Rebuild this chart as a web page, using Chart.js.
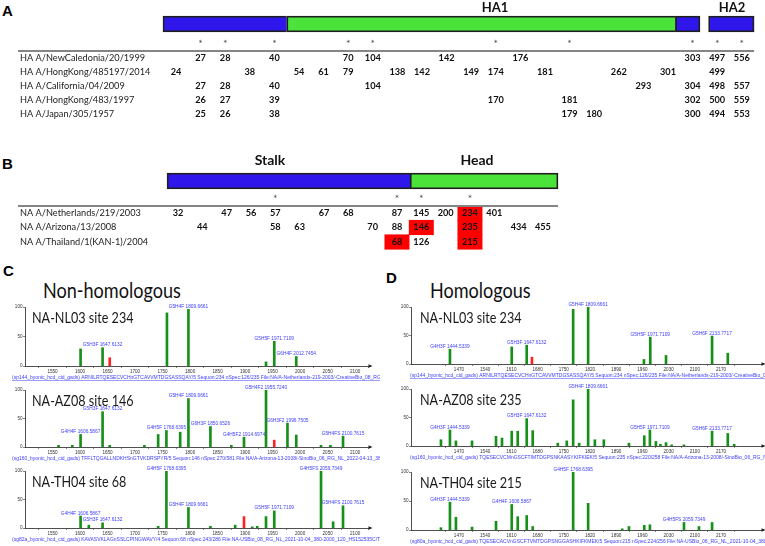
<!DOCTYPE html>
<html>
<head>
<meta charset="utf-8">
<script src="https://cdn.jsdelivr.net/npm/chart.js@4"></script>
<style>
  body { margin: 0; background: #fff; width: 765px; height: 546px; position: relative; overflow: hidden; }
  canvas { position: absolute; }
  .tag { position: absolute; font: bold 15px "Liberation Sans", Arial, sans-serif; color: #000; line-height: 1; }
  .head { position: absolute; font: 21px Lato, sans-serif; color: #111; line-height: 1; white-space: nowrap;
          transform-origin: 0 0; transform: scaleX(0.86); }
</style>
</head>
<body>
<div class="tag" style="left:2px;top:3px">A</div>
<div class="tag" style="left:2px;top:156px">B</div>
<div class="tag" style="left:3px;top:263px">C</div>
<div class="tag" style="left:386px;top:270px">D</div>
<div class="head" style="left:43px;top:279px">Non-homologous</div>
<div class="head" style="left:430px;top:279px">Homologous</div>

<canvas id="panelA" width="765" height="122" style="left:0;top:0"></canvas>
<canvas id="panelB" width="765" height="130" style="left:0;top:122px"></canvas>
<canvas id="c1" width="380" height="81" style="left:0;top:300px"></canvas>
<canvas id="c2" width="380" height="81" style="left:0;top:381px"></canvas>
<canvas id="c3" width="380" height="84" style="left:0;top:462px"></canvas>
<canvas id="d1" width="385" height="81" style="left:380px;top:300px"></canvas>
<canvas id="d2" width="385" height="81" style="left:380px;top:381px"></canvas>
<canvas id="d3" width="385" height="84" style="left:380px;top:462px"></canvas>

<script>
// ---- Panel A: HA glycosylation sites (alignment columns 0..23) ----
const haStrains = ['HA A/NewCaledonia/20/1999', 'HA A/HongKong/485197/2014', 'HA A/California/04/2009',
                   'HA A/HongKong/483/1997', 'HA A/Japan/305/1957'];
const haSites = [
  [null, 27, 28, null, 40, null, null, 70, 104, null, null, 142, null, null, 176, null, null, null, null, null, null, 303, 497, 556],
  [24, null, null, 38, null, 54, 61, 79, null, 138, 142, null, 149, 174, null, 181, null, null, 262, null, 301, null, 499, null],
  [null, 27, 28, null, 40, null, null, null, 104, null, null, null, null, null, null, null, null, null, null, 293, null, 304, 498, 557],
  [null, 26, 27, null, 39, null, null, null, null, null, null, null, null, 170, null, null, 181, null, null, null, null, 302, 500, 559],
  [null, 25, 26, null, 38, null, null, null, null, null, null, null, null, null, null, null, 179, 180, null, null, null, 300, 494, 553]
];
const haConserved = [1, 2, 4, 7, 8, 13, 16, 21, 22, 23];
const haDomainStart = [-0.53, 4.5, 20.3, 21.65];
const haDomainEnd = [4.5, 20.3, 21.3, 23.5];
const haDomainKind = ['stem', 'head', 'stem', 'stem'];
const haRegions = ['HA1', 'HA2'];
const haRegionAt = [12.97, 22.6];

// ---- Panel B: NA glycosylation sites (alignment columns 0..15) ----
const naStrains = ['NA A/Netherlands/219/2003', 'NA A/Arizona/13/2008', 'NA A/Thailand/1(KAN-1)/2004'];
const naSites = [
  [32, null, 47, 56, 57, null, 67, 68, null, 87, 145, 200, 234, 401, null, null],
  [null, 44, null, null, 58, 63, null, null, 70, 88, 146, null, 235, null, 434, 455],
  [null, null, null, null, null, null, null, null, null, 68, 126, null, 215, null, null, null]
];
const naConserved = [4, 9, 10, 12];
const naHighlightRow = [0, 1, 1, 2, 2];
const naHighlightCol = [12, 10, 12, 9, 12];
const naDomainStart = [-0.45, 9.54];
const naDomainEnd = [9.54, 15.62];
const naDomainKind = ['stem', 'head'];
const naRegions = ['Stalk', 'Head'];
const naRegionAt = [3.78, 12.29];

// ---- Panels C/D: spectra (m/z, relative intensity %) ----
const cTicks = [1550, 1600, 1650, 1700, 1750, 1800, 1850, 1900, 1950, 2000, 2050, 2100];
const dTicks = [1470, 1540, 1610, 1680, 1750, 1820, 1890, 1960, 2030, 2100, 2170];
const yTicks = [0, 50, 100];

const c1Mz = [1601, 1641, 1758, 1797, 1938, 1953, 1993];
const c1Int = [29, 31, 90, 96, 7, 42, 16];
const c1Tag = ['', 'G5H3F 1647.6132', '', 'G5H4F 1809.6661', '', 'G5H5F 1971.7109', 'G6H4F 2012.7454'];
const c1RedMz = [1654];
const c1RedInt = [14];

const c2Mz = [1561, 1586, 1601, 1641, 1654, 1717, 1742, 1757, 1782, 1797, 1837, 1875, 1898, 1938, 1977, 1993, 2038, 2055, 2078];
const c2Int = [3, 3, 22, 62, 3, 3, 22, 29, 26, 85, 36, 3, 17, 100, 42, 21, 3, 3, 19];
const c2Tag = ['', '', 'G4H4F 1606.5867', 'G5H3F 1647.6132', '', '', '', 'G4H5F 1768.6395', '', 'G5H4F 1809.6661',
               'G6H3F 1850.6526', '', 'G4H5F2 1914.6974', 'G5H4F2 1955.7240', 'G6H3F2 1996.7505', '', '', '', 'G5H4FS 2100.7615'];
const c2RedMz = [1953];
const c2RedInt = [12];

const c3Mz = [1601, 1616, 1641, 1742, 1757, 1797, 1837, 1882, 1913, 1922, 1938, 1953, 2038, 2060, 2078];
const c3Int = [21, 5, 9, 3, 100, 36, 3, 5, 2, 3, 20, 30, 100, 11, 39];
const c3Tag = ['G4H4F 1606.5867', '', 'G5H3F 1647.6132', '', 'G4H5F 1768.6395', 'G5H4F 1809.6661', '', '', '', '', '',
               'G5H5F 1971.7109', 'G4H5FS 2059.7349', '', 'G5H4FS 2100.7615'];
const c3RedMz = [1898];
const c3RedInt = [20];

const d1Mz = [1446, 1611, 1651, 1775, 1815, 1964, 1981, 2023, 2146, 2188];
const d1Int = [26, 30, 33, 96, 100, 8, 47, 15, 49, 19];
const d1Tag = ['G4H3F 1444.5339', '', 'G5H3F 1647.6132', '', 'G5H4F 1809.6661', '', 'G5H5F 1971.7109', '', 'G5H6F 2133.7717', ''];
const d1RedMz = [1665];
const d1RedInt = [12];

const d2Mz = [1422, 1446, 1462, 1505, 1569, 1585, 1611, 1627, 1651, 1667, 1734, 1758, 1775, 1791, 1815, 1833, 1857,
              1924, 1965, 1980, 1996, 2008, 2023, 2038, 2071, 2146, 2188, 2205];
const d2Int = [11, 28, 9, 9, 17, 14, 26, 26, 48, 27, 5, 9, 81, 5, 100, 11, 11, 5, 18, 28, 8, 3, 6, 2, 2, 26, 22, 3];
const d2Tag = ['', 'G4H3F 1444.5339', '', '', '', '', '', '', 'G5H3F 1647.6132', '', '', '', '', '', 'G5H4F 1809.6661', '', '',
               '', '', 'G5H5F 1971.7109', '', '', '', '', '', 'G5H6F 2133.7717', '', ''];
const d2RedMz = [];
const d2RedInt = [];

const d3Mz = [1422, 1446, 1462, 1505, 1569, 1611, 1627, 1651, 1667, 1775, 1815, 1906, 1924, 1965, 1980, 2071, 2111, 2146];
const d3Int = [4, 48, 22, 5, 15, 44, 23, 25, 6, 100, 46, 2, 6, 8, 9, 13, 6, 13];
const d3Tag = ['', 'G4H3F 1444.5339', '', '', '', 'G4H4F 1606.5867', '', '', '', 'G4H5F 1768.6395', '', '', '', '', '',
               'G4H5FS 2059.7349', '', ''];
const d3RedMz = [];
const d3RedInt = [];

const caption1 = '(sp144_byonic_hcd_cid_gads) ARNILRTQESECVCHnGTCAVVMTDGSASSQAY/5 Sequon:234 nSpec:126/235 File:NA/A-Netherlands-219-2003/-CreativeBio_08_RG_NL_2022';
const captionC2 = '(sg160_byonic_hcd_cid_gads) TFFLTQGALLNDKHSnGTVKDRSPYR/5 Sequon:146 nSpec:270/581 File:NA/A-Arizona-13-2008/-SinoBio_06_RG_NL_2022-04-13_380';
const captionC3 = '(sg82a_byonic_hcd_cid_gads) KAVASVKLAGnSSLCPINGWAVY/4 Sequon:68 nSpec:243/286 File:NA-USBio_08_RG_NL_2021-10-04_380-2000_120_HS152535C/T_';
const captionD2 = '(sg160_byonic_hcd_cid_gads) TQESECVCMnGSCFTIMTDGPSNKAASYKIFKIEK/5 Sequon:235 nSpec:220/258 File:NA/A-Arizona-13-2008/-SinoBio_06_RG_NL_2022';
const captionD3 = '(sg80a_byonic_hcd_cid_gads) TQESECACVnGSCFTVMTDGPSNGGASHKIFKMEK/5 Sequon:215 nSpec:224/256 File:NA-USBio_06_RG_NL_2021-10-04_380-2000_1';

// colours
const colors = {
    stem: '#2f17ec',
    head: '#4be33a',
    outline: '#1e1e1e',
    highlight: '#ff0000',
    peak: '#17901a',
    peakRed: '#ff2222',
    annot: '#3d3dff'
};

Chart.defaults.font.family = 'Lato';

// text layer for the alignment panels (names, site numbers, asterisks, rule)
function alignmentText(t) {
    return {
        id: 'alignmentText',
        afterDatasetsDraw(chart) {
            const { ctx, scales: { x, y } } = chart;
            ctx.save();
            ctx.fillStyle = '#111';
            ctx.font = 'bold ' + t.regionSize + 'px Lato';
            ctx.textAlign = 'center';
            ctx.textBaseline = 'alphabetic';
            const barTop = y.getPixelForValue(t.barY) - 8;
            t.regions.forEach((r, i) => ctx.fillText(r, x.getPixelForValue(t.regionAt[i]), barTop - t.regionGap));

            ctx.font = '7px "DejaVu Sans"';
            ctx.textBaseline = 'middle';
            ctx.fillStyle = '#333';
            t.conserved.forEach(c => ctx.fillText('*', x.getPixelForValue(c), y.getPixelForValue(t.starY) + 1.5));

            const ry = y.getPixelForValue(t.ruleY);
            ctx.strokeStyle = '#858585';
            ctx.lineWidth = 2;
            ctx.beginPath();
            ctx.moveTo(18, ry);
            ctx.lineTo(x.getPixelForValue(t.ruleTo), ry);
            ctx.stroke();

            t.strains.forEach((s, r) => {
                const py = y.getPixelForValue(r);
                ctx.textAlign = 'left';
                ctx.font = '9.2px Lato';
                ctx.fillStyle = '#222';
                ctx.fillText(s, 20, py);
                ctx.textAlign = 'center';
                ctx.font = 'bold 9.2px Lato';
                ctx.fillStyle = '#111';
                t.sites[r].forEach((v, c) => {
                    if (v !== null) ctx.fillText(String(v), x.getPixelForValue(c), py);
                });
            });
            ctx.restore();
        }
    };
}

// alignment panel: domain bar + highlighted cells as floating horizontal bars
function drawAlignment(id, t) {
    const g = t.geom;
    new Chart(document.getElementById(id), {
        type: 'bar',
        data: {
            datasets: [{
                data: t.domStart.map((s, i) => ({ x: [s, t.domEnd[i]], y: t.barY })),
                backgroundColor: t.domKind.map(k => colors[k]),
                borderColor: colors.outline,
                borderWidth: 1.8,
                borderSkipped: c => (t.domStart[c.dataIndex + 1] === t.domEnd[c.dataIndex]) ? 'right' : false,
                barThickness: 16,
                grouped: false
            }, {
                data: t.hlRow.map((r, i) => ({ x: [t.hlCol[i] - 0.5, t.hlCol[i] + 0.5], y: r })),
                backgroundColor: colors.highlight,
                borderWidth: 0,
                barThickness: g.rowStep,
                grouped: false
            }]
        },
        options: {
            indexAxis: 'y',
            responsive: false,
            animation: false,
            events: [],
            layout: { padding: 0 },
            scales: {
                x: { type: 'linear', display: false, offset: false,
                     min: -g.col0 / g.colStep, max: (g.width - g.col0) / g.colStep },
                y: { type: 'linear', display: false, offset: false, reverse: true,
                     min: -g.row0 / g.rowStep, max: (g.height - g.row0) / g.rowStep }
            },
            plugins: { legend: { display: false }, tooltip: { enabled: false } }
        },
        plugins: [alignmentText(t)]
    });
}

// spectrum annotations, title, caption, axis arrow
function spectrumText(d, g) {
    return {
        id: 'spectrumText',
        afterDatasetsDraw(chart) {
            const { ctx, chartArea: a, scales: { x, y } } = chart;
            ctx.save();
            ctx.font = '4.8px "Liberation Sans", Arial';
            ctx.fillStyle = colors.annot;
            ctx.textAlign = 'center';
            ctx.textBaseline = 'alphabetic';
            d.tag.forEach((t, i) => {
                if (t) ctx.fillText(t, x.getPixelForValue(d.mz[i]), y.getPixelForValue(d.inten[i]) - 1.5);
            });

            ctx.fillStyle = '#222';
            ctx.beginPath();
            ctx.moveTo(a.right + 2.5, a.bottom);
            ctx.lineTo(a.right - 1.5, a.bottom - 1.8);
            ctx.lineTo(a.right - 1.5, a.bottom + 1.8);
            ctx.fill();

            ctx.font = '5px "Liberation Sans", Arial';
            ctx.fillStyle = colors.annot;
            ctx.textAlign = 'left';
            ctx.textBaseline = 'middle';
            const cy = a.bottom + 11.5;
            ctx.fillText(d.caption, g.captionX, cy);
            if (g.underline) {
                ctx.strokeStyle = colors.annot;
                ctx.lineWidth = 0.5;
                ctx.beginPath();
                ctx.moveTo(g.captionX, cy + 3);
                ctx.lineTo(chart.width, cy + 3);
                ctx.stroke();
            }

            ctx.fillStyle = '#1a1a1a';
            ctx.font = '15px Lato';
            ctx.textBaseline = 'alphabetic';
            ctx.translate(a.left + g.titleX, a.top + 16);
            ctx.scale(0.84, 1);
            ctx.fillText(d.title, 0, 0);
            ctx.restore();
        }
    };
}

function drawSpectrum(id, d, g) {
    const tickFont = { size: 4.6, family: '"Liberation Sans", Arial' };
    new Chart(document.getElementById(id), {
        type: 'bar',
        data: {
            datasets: [{
                data: d.mz.map((m, i) => ({ x: m, y: d.inten[i] })),
                backgroundColor: colors.peak,
                barThickness: 2,
                grouped: false
            }, {
                data: d.redMz.map((m, i) => ({ x: m, y: d.redInt[i] })),
                backgroundColor: colors.peakRed,
                barThickness: 2,
                grouped: false
            }]
        },
        options: {
            responsive: false,
            animation: false,
            events: [],
            layout: { padding: { top: g.top, bottom: g.bottom, right: g.right, left: 0 } },
            scales: {
                x: {
                    type: 'linear', min: g.min, max: g.max, offset: false,
                    afterBuildTicks: s => { s.ticks = d.ticks.map(v => ({ value: v })); },
                    afterFit: s => { s.height = 8; },
                    ticks: { font: tickFont, color: '#333', padding: 1, maxRotation: 0, autoSkip: false,
                             callback: v => String(v) },
                    grid: { drawOnChartArea: false, tickLength: 2, color: '#333', lineWidth: 0.6 },
                    border: { color: '#222', width: 0.8 }
                },
                y: {
                    min: 0, max: 100,
                    afterBuildTicks: s => { s.ticks = yTicks.map(v => ({ value: v })); },
                    afterFit: s => { s.width = g.axisLeft; },
                    ticks: { font: tickFont, color: '#333', padding: 0.5, callback: v => String(v) },
                    grid: { drawOnChartArea: false, tickLength: 2, color: '#333', lineWidth: 0.6 },
                    border: { color: '#222', width: 0.8 }
                }
            },
            plugins: { legend: { display: false }, tooltip: { enabled: false } }
        },
        plugins: [spectrumText(d, g)]
    });
}

function initFigure() {
    const geomA = { col0: 176, colStep: 24.6, width: 765, row0: 58, rowStep: 14, height: 122 };
    drawAlignment('panelA', {
        geom: geomA, strains: haStrains, sites: haSites, conserved: haConserved,
        domStart: haDomainStart, domEnd: haDomainEnd, domKind: haDomainKind,
        regions: haRegions, regionAt: haRegionAt, regionSize: 13, regionGap: 4,
        hlRow: [], hlCol: [],
        barY: (24 - 58) / 14, starY: (42 - 58) / 14, ruleY: (51 - 58) / 14,
        ruleTo: haDomainEnd[haDomainEnd.length - 1]
    });

    const geomB = { col0: 178, colStep: 24.33, width: 765, row0: 91, rowStep: 14.5, height: 130 };
    drawAlignment('panelB', {
        geom: geomB, strains: naStrains, sites: naSites, conserved: naConserved,
        domStart: naDomainStart, domEnd: naDomainEnd, domKind: naDomainKind,
        regions: naRegions, regionAt: naRegionAt, regionSize: 14, regionGap: 8,
        hlRow: naHighlightRow, hlCol: naHighlightCol,
        barY: (59 - 91) / 14.5, starY: (75 - 91) / 14.5, ruleY: (84 - 91) / 14.5,
        ruleTo: naDomainEnd[naDomainEnd.length - 1]
    });

    const cGeom = { min: 1500, max: 2127, axisLeft: 25, right: 10, titleX: 7, captionX: 12 };
    const dGeom = { min: 1342, max: 2282, axisLeft: 31, right: 2, titleX: 9, captionX: 30 };

    drawSpectrum('c1', { mz: c1Mz, inten: c1Int, tag: c1Tag, redMz: c1RedMz, redInt: c1RedInt, ticks: cTicks,
                         title: 'NA-NL03 site 234', caption: caption1 },
                 Object.assign({ top: 7, bottom: 7, underline: true }, cGeom));
    drawSpectrum('c2', { mz: c2Mz, inten: c2Int, tag: c2Tag, redMz: c2RedMz, redInt: c2RedInt, ticks: cTicks,
                         title: 'NA-AZ08 site 146', caption: captionC2 },
                 Object.assign({ top: 9, bottom: 7 }, cGeom));
    drawSpectrum('c3', { mz: c3Mz, inten: c3Int, tag: c3Tag, redMz: c3RedMz, redInt: c3RedInt, ticks: cTicks,
                         title: 'NA-TH04 site 68', caption: captionC3 },
                 Object.assign({ top: 9, bottom: 10 }, cGeom));
    drawSpectrum('d1', { mz: d1Mz, inten: d1Int, tag: d1Tag, redMz: d1RedMz, redInt: d1RedInt, ticks: dTicks,
                         title: 'NA-NL03 site 234', caption: caption1 },
                 Object.assign({ top: 7, bottom: 9, underline: true }, dGeom));
    drawSpectrum('d2', { mz: d2Mz, inten: d2Int, tag: d2Tag, redMz: d2RedMz, redInt: d2RedInt, ticks: dTicks,
                         title: 'NA-AZ08 site 235', caption: captionD2 },
                 Object.assign({ top: 8, bottom: 8 }, dGeom));
    drawSpectrum('d3', { mz: d3Mz, inten: d3Int, tag: d3Tag, redMz: d3RedMz, redInt: d3RedInt, ticks: dTicks,
                         title: 'NA-TH04 site 215', caption: captionD3 },
                 Object.assign({ top: 10, bottom: 8 }, dGeom));
}

initFigure();
</script>
</body>
</html>
